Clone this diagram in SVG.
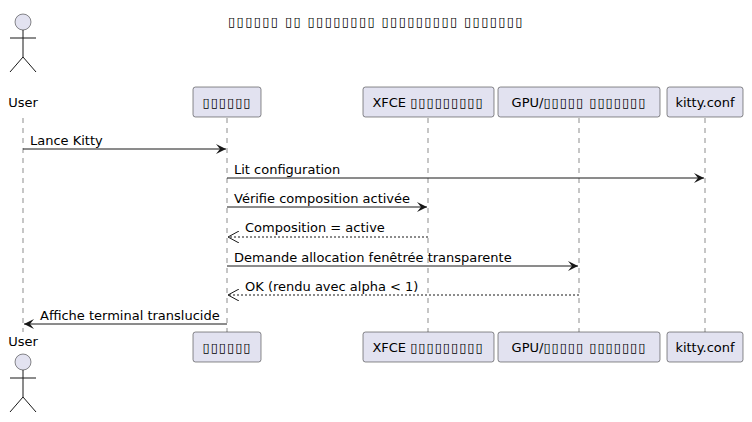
<svg xmlns="http://www.w3.org/2000/svg" width="752" height="422" viewBox="0 0 752 422">
<style>
text{font-family:"DejaVu Sans",sans-serif;font-size:13px;fill:#000}
.t{letter-spacing:1px}
.p{fill:#E2E2F0;stroke:#181818;stroke-width:0.5}
.ll{stroke:#181818;stroke-width:0.5;stroke-dasharray:5,5}
.m{stroke:#181818;stroke-width:1;fill:none}
.d{stroke-dasharray:2,2}
.a{fill:#E2E2F0;stroke:#181818;stroke-width:0.5}
</style>
<defs>
<marker id="ah" markerWidth="12" markerHeight="10" refX="10" refY="5" orient="auto" markerUnits="userSpaceOnUse"><path d="M0,0 L10,5 L0,10 L4,5 Z" fill="#181818"/></marker>
<marker id="ao" markerWidth="12" markerHeight="12" refX="11" refY="6" orient="auto" markerUnits="userSpaceOnUse"><path d="M0,0 L11,6 L0,12" fill="none" stroke="#181818"/></marker>
</defs>
<text x="376" y="26" text-anchor="middle" font-size="14" style="letter-spacing:1.4px">▯▯▯▯▯▯ ▯▯ ▯▯▯▯▯▯▯▯ ▯▯▯▯▯▯▯▯▯ ▯▯▯▯▯▯▯</text>
<g id="lifelines">
<line class="ll" x1="23" y1="118" x2="23" y2="332"/>
<line class="ll" x1="227" y1="118" x2="227" y2="332"/>
<line class="ll" x1="428" y1="118" x2="428" y2="332"/>
<line class="ll" x1="579" y1="118" x2="579" y2="332"/>
<line class="ll" x1="705" y1="118" x2="705" y2="332"/>
</g>
<g id="user">
<circle class="a" cx="23" cy="22" r="8"/>
<path class="m" d="M23,30 V57 M10,38 H36 M23,57 L10,72 M23,57 L36,72" stroke-width="0.5"/>
<text x="23" y="107" text-anchor="middle" font-size="14">User</text>
<text x="23" y="346" text-anchor="middle" font-size="14">User</text>
<circle class="a" cx="23" cy="362" r="8"/>
<path class="m" d="M23,370 V397 M10,378 H36 M23,397 L10,412 M23,397 L36,412" stroke-width="0.5"/>
</g>
<g id="kitty">
<rect class="p" x="193" y="87" width="68" height="30" rx="2.5"/>
<text x="227" y="107" text-anchor="middle" class="t">▯▯▯▯▯▯</text>
<rect class="p" x="193" y="332" width="68" height="30" rx="2.5"/>
<text x="227" y="352" text-anchor="middle" class="t">▯▯▯▯▯▯</text>
</g>
<g id="xfce">
<rect class="p" x="363" y="87" width="131" height="30" rx="2.5"/>
<text x="428" y="107" text-anchor="middle">XFCE <tspan class="t">▯▯▯▯▯▯▯▯▯</tspan></text>
<rect class="p" x="363" y="332" width="131" height="30" rx="2.5"/>
<text x="428" y="352" text-anchor="middle">XFCE <tspan class="t">▯▯▯▯▯▯▯▯▯</tspan></text>
</g>
<g id="gpu">
<rect class="p" x="498" y="87" width="162" height="30" rx="2.5"/>
<text x="579" y="107" text-anchor="middle">GPU/<tspan class="t">▯▯▯▯▯ ▯▯▯▯▯▯▯</tspan></text>
<rect class="p" x="498" y="332" width="162" height="30" rx="2.5"/>
<text x="579" y="352" text-anchor="middle">GPU/<tspan class="t">▯▯▯▯▯ ▯▯▯▯▯▯▯</tspan></text>
</g>
<g id="conf">
<rect class="p" x="667" y="87" width="76" height="30" rx="2.5"/>
<text x="705" y="107" text-anchor="middle">kitty.conf</text>
<rect class="p" x="667" y="332" width="76" height="30" rx="2.5"/>
<text x="705" y="352" text-anchor="middle">kitty.conf</text>
</g>
<g id="connectors">
<line class="m" x1="23" y1="149" x2="226" y2="149" marker-end="url(#ah)"/>
<text x="30" y="145">Lance Kitty</text>
<line class="m" x1="227" y1="178" x2="704" y2="178" marker-end="url(#ah)"/>
<text x="234" y="174">Lit configuration</text>
<line class="m" x1="227" y1="207" x2="427" y2="207" marker-end="url(#ah)"/>
<text x="234" y="203">Vérifie composition activée</text>
<line class="m d" x1="428" y1="237" x2="228" y2="237" marker-end="url(#ao)"/>
<text x="245" y="232">Composition = active</text>
<line class="m" x1="227" y1="266" x2="578" y2="266" marker-end="url(#ah)"/>
<text x="234" y="262">Demande allocation fenêtrée transparente</text>
<line class="m d" x1="579" y1="295" x2="228" y2="295" marker-end="url(#ao)"/>
<text x="245" y="291">OK (rendu avec alpha &lt; 1)</text>
<line class="m" x1="227" y1="324" x2="24" y2="324" marker-end="url(#ah)"/>
<text x="40" y="320">Affiche terminal translucide</text>
</g>
</svg>
